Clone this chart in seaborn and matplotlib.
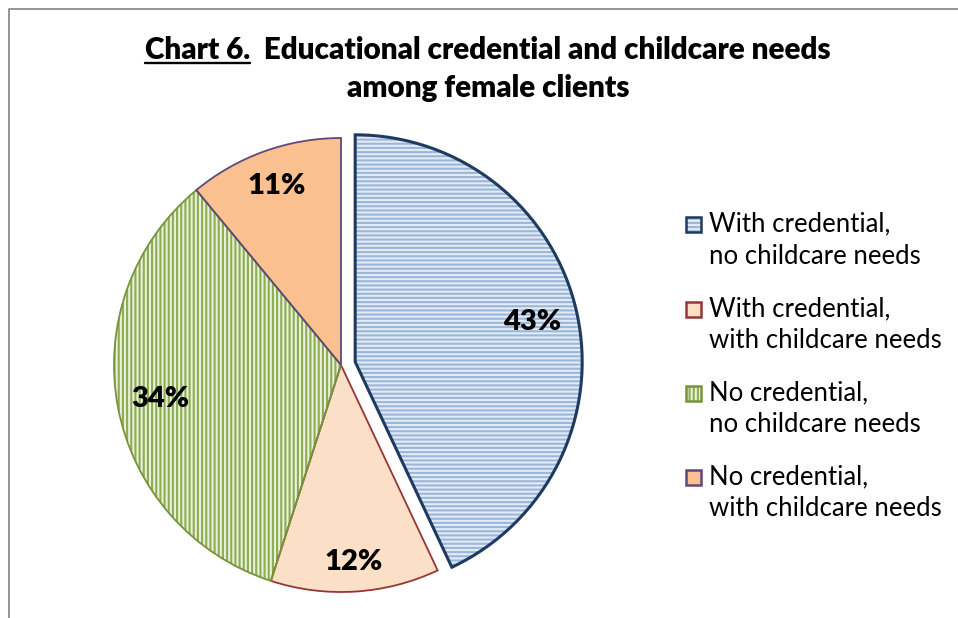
import matplotlib
matplotlib.use("Agg")
import matplotlib.pyplot as plt
from matplotlib.patches import Rectangle
from matplotlib.lines import Line2D
import numpy as np
import seaborn as sns

# ---- data -------------------------------------------------------------
categories = [
    "With credential,\nno childcare needs",
    "With credential,\nwith childcare needs",
    "No credential,\nno childcare needs",
    "No credential,\nwith childcare needs",
]
shares = [43, 12, 34, 11]
pct_labels = ["43%", "12%", "34%", "11%"]

# ---- styling ----------------------------------------------------------
face_colors = ["#e3ebf5", "#fbdfc6", "#e9f0dd", "#fac090"]
hatch_colors = ["#9ab7da", None, "#8cae4e", None]
hatches = ["----", None, "||||", None]
edge_colors = ["#1f3a60", "#953735", "#77933c", "#5f497a"]
edge_widths = [2.2, 1.3, 1.3, 1.3]
explode = [0.064, 0, 0, 0]
label_radius = [0.80, 0.87, 0.81, 0.84]

sns.set_theme(style="white")
plt.rcParams["font.family"] = ["Lato", "DejaVu Sans"]
plt.rcParams["text.color"] = "black"
plt.rcParams["hatch.linewidth"] = 1.5

W, H = 958, 618
fig = plt.figure(figsize=(W / 100, H / 100), dpi=100)
fig.patch.set_facecolor("white")

# pie axes: centre at (341, 365) px, radius 227 px
cx, cy, R = 341, 365, 227
half = 250
ax = fig.add_axes([(cx - half) / W, (H - cy - half) / H, 2 * half / W, 2 * half / H])
lim = half / R

common = dict(startangle=90, counterclock=False, explode=explode, radius=1.0)

# base fill
wedges, _ = ax.pie(shares, colors=face_colors,
                   wedgeprops=dict(linewidth=0, edgecolor="none"), **common)
# hatch layer
hw, _ = ax.pie(shares, colors=["none"] * 4,
               wedgeprops=dict(linewidth=0), **common)
for w, hc, h in zip(hw, hatch_colors, hatches):
    w.set_facecolor("none")
    if h:
        w.set_edgecolor(hc)
        w.set_hatch(h)
    else:
        w.set_visible(False)
# outlines
ow, _ = ax.pie(shares, colors=["none"] * 4, **common)
for w, ec, lw in zip(ow, edge_colors, edge_widths):
    w.set_facecolor("none")
    w.set_edgecolor(ec)
    w.set_linewidth(lw)
    w.set_joinstyle("miter")

# percentage labels
for w, lab, r, ex in zip(wedges, pct_labels, label_radius, explode):
    ang = np.deg2rad((w.theta1 + w.theta2) / 2)
    x = (r + ex) * np.cos(ang)
    y = (r + ex) * np.sin(ang)
    ax.text(x, y, lab, ha="center", va="center", fontsize=21,
            fontweight="heavy", color="black")

ax.set_xlim(-lim, lim)
ax.set_ylim(-lim, lim)
ax.set_aspect("equal")
ax.axis("off")

# ---- title ------------------------------------------------------------
renderer = fig.canvas.get_renderer()
title_size = 21.3
tcx = 488
base1 = 59
t1 = fig.text(0, 0, "Chart 6.", fontsize=title_size, fontweight="heavy",
              va="baseline", ha="left")
t2 = fig.text(0, 0, "  Educational credential and childcare needs",
              fontsize=title_size, fontweight="heavy", va="baseline", ha="left")
w1 = t1.get_window_extent(renderer).width
w2 = t2.get_window_extent(renderer).width
x0 = tcx - (w1 + w2) / 2
t1.set_position((x0 / W, (H - base1) / H))
t2.set_position(((x0 + w1) / W, (H - base1) / H))
fig.add_artist(Line2D([x0 / W, (x0 + w1) / W], [(H - base1 - 3.5) / H] * 2,
                      transform=fig.transFigure, color="black", lw=1.7))
fig.text(tcx / W, (H - 97) / H, "among female clients", fontsize=title_size,
         fontweight="heavy", ha="center", va="baseline")

# ---- legend -----------------------------------------------------------
leg_x = 686
sq = 15
first_line_y = [224, 309, 393, 477]
line_gap = 32
for i, (cat, y) in enumerate(zip(categories, first_line_y)):
    box = ((leg_x) / W, (H - y - sq / 2) / H)
    fig.add_artist(Rectangle(box, sq / W, sq / H, transform=fig.transFigure,
                             facecolor=face_colors[i], edgecolor="none"))
    if hatches[i]:
        fig.add_artist(Rectangle(box, sq / W, sq / H, transform=fig.transFigure,
                                 facecolor="none", edgecolor=hatch_colors[i],
                                 hatch=hatches[i], linewidth=0))
    fig.add_artist(Rectangle(box, sq / W, sq / H, transform=fig.transFigure,
                             facecolor="none", edgecolor=edge_colors[i],
                             linewidth=1.8))
    l1, l2 = cat.split("\n")
    fig.text(709 / W, (H - y) / H, l1, fontsize=18.5, ha="left", va="center")
    fig.text(709 / W, (H - y - line_gap) / H, l2, fontsize=18.5, ha="left",
             va="center")

# ---- outer frame (left and top edges) ---------------------------------
fig.add_artist(Line2D([9 / W, 9 / W, 1.0], [0.0, (H - 9) / H, (H - 9) / H],
                      transform=fig.transFigure, color="#8c8c8c", lw=1.3))

fig.savefig("out.png", dpi=100, facecolor="white")
